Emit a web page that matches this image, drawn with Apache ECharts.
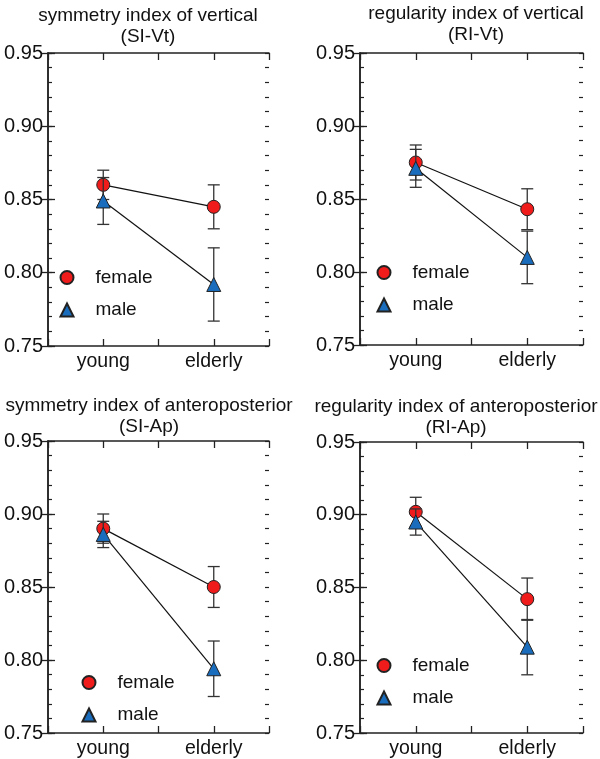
<!DOCTYPE html>
<html>
<head>
<meta charset="utf-8">
<script src="https://cdn.jsdelivr.net/npm/echarts@6/dist/echarts.min.js"></script>
<style>
html, body { margin: 0; padding: 0; background: #fff; }
#main { width: 600px; height: 759px; }
</style>
</head>
<body>
<div id="main"></div>
<script>
// categories on the x axis
var groups = ['young', 'elderly'];
var yTicks = [0.75, 0.80, 0.85, 0.90, 0.95];

// panel titles
var titles = [
    'symmetry index of vertical\n(SI-Vt)',
    'regularity index of vertical\n(RI-Vt)',
    'symmetry index of anteroposterior\n(SI-Ap)',
    'regularity index of anteroposterior\n(RI-Ap)'
];

// SI-Vt
var siVtFemale = [0.860, 0.845];
var siVtFemaleErr = [0.010, 0.015];
var siVtMale = [0.849, 0.792];
var siVtMaleErr = [0.016, 0.025];
// RI-Vt
var riVtFemale = [0.875, 0.843];
var riVtFemaleErr = [0.012, 0.014];
var riVtMale = [0.871, 0.810];
var riVtMaleErr = [0.013, 0.018];
// SI-Ap
var siApFemale = [0.890, 0.850];
var siApFemaleErr = [0.010, 0.014];
var siApMale = [0.886, 0.794];
var siApMaleErr = [0.009, 0.019];
// RI-Ap
var riApFemale = [0.902, 0.842];
var riApFemaleErr = [0.010, 0.0145];
var riApMale = [0.895, 0.809];
var riApMaleErr = [0.009, 0.019];

var panelData = [
    [siVtFemale, siVtFemaleErr, siVtMale, siVtMaleErr],
    [riVtFemale, riVtFemaleErr, riVtMale, riVtMaleErr],
    [siApFemale, siApFemaleErr, siApMale, siApMaleErr],
    [riApFemale, riApFemaleErr, riApMale, riApMaleErr]
];

// layout of the four boxes
var boxes = [
    {left: 48, top: 53, width: 221, height: 293, titleX: 148, titleY: 26, legX: 59.5, legY: 268},
    {left: 360, top: 53, width: 223, height: 292, titleX: 476, titleY: 24.5, legX: 376.5, legY: 263},
    {left: 48, top: 441, width: 221, height: 293, titleX: 149, titleY: 416.5, legX: 81.5, legY: 673},
    {left: 360, top: 442, width: 223, height: 292, titleX: 456, titleY: 417.5, legX: 376.5, legY: 656}
];

var FONT = '"Liberation Sans", Arial, Helvetica, sans-serif';
var RED = '#f01c1c';
var BLUE = '#1a6dbd';
var AXIS = '#222';

// young -> 1, elderly -> 3 on a 0..4 axis
var groupPos = function (i) { return i * 2 + 1; };

var toLine = function (means) {
    return means.map(function (v, i) { return [groupPos(i), v]; });
};
var toErr = function (means, errs) {
    return means.map(function (v, i) { return [groupPos(i), v - errs[i], v + errs[i]]; });
};

function renderErrorBar(params, api) {
    var x = api.value(0);
    var lo = api.coord([x, api.value(1)]);
    var hi = api.coord([x, api.value(2)]);
    var w = 6;
    var style = {stroke: '#333', lineWidth: 1.3};
    return {
        type: 'group',
        children: [
            {type: 'line', shape: {x1: lo[0], y1: lo[1], x2: hi[0], y2: hi[1]}, style: style},
            {type: 'line', shape: {x1: lo[0] - w, y1: lo[1], x2: lo[0] + w, y2: lo[1]}, style: style},
            {type: 'line', shape: {x1: hi[0] - w, y1: hi[1], x2: hi[0] + w, y2: hi[1]}, style: style}
        ]
    };
}

var chart = echarts.init(document.getElementById('main'));

var option = {
    animation: false,
    backgroundColor: '#fff',
    grid: [],
    xAxis: [],
    yAxis: [],
    legend: [],
    graphic: [],
    series: []
};

var yMin = yTicks[0], yMax = yTicks[yTicks.length - 1];

boxes.forEach(function (b, i) {
    option.grid.push({left: b.left, top: b.top, width: b.width, height: b.height});

    var majorTick = {show: true, inside: true, length: 7, lineStyle: {color: AXIS, width: 1.3}};
    var minorTick = {show: true, inside: true, length: 4, lineStyle: {color: AXIS, width: 1.2}};
    var axisLine = {show: true, lineStyle: {color: AXIS, width: 1.5}};

    //bottom and top x axes
    option.xAxis.push({
        type: 'value', gridIndex: i, min: 0, max: 4, interval: 1,
        axisLine: axisLine, axisTick: majorTick, splitLine: {show: false},
        axisLabel: {
            fontSize: 19.5, fontFamily: FONT, color: '#111', margin: 6,
            formatter: function (v) { return v % 2 === 1 ? groups[(v - 1) / 2] : ''; }
        }
    }, {
        type: 'value', gridIndex: i, min: 0, max: 4, interval: 1, position: 'top',
        axisLine: axisLine, axisTick: majorTick, splitLine: {show: false},
        axisLabel: {show: false}
    });

    //left/right y axes: one for major ticks + labels, one for the 0.01 minor ticks
    var yi = option.yAxis.length;
    option.yAxis.push({
        type: 'value', gridIndex: i, min: yMin, max: yMax, interval: 0.05, position: 'left',
        axisLine: axisLine, axisTick: majorTick, splitLine: {show: false},
        axisLabel: {
            fontSize: 20, fontFamily: FONT, color: '#111', margin: 5,
            formatter: function (v) { return v.toFixed(2); }
        }
    }, {
        type: 'value', gridIndex: i, min: yMin, max: yMax, interval: 0.05, position: 'right',
        axisLine: axisLine, axisTick: majorTick, splitLine: {show: false},
        axisLabel: {show: false}
    }, {
        type: 'value', gridIndex: i, min: yMin, max: yMax, interval: 0.01, position: 'left',
        axisLine: {show: false}, axisTick: minorTick, splitLine: {show: false},
        axisLabel: {show: false}
    }, {
        type: 'value', gridIndex: i, min: yMin, max: yMax, interval: 0.01, position: 'right',
        axisLine: {show: false}, axisTick: minorTick, splitLine: {show: false},
        axisLabel: {show: false}
    });

    var d = panelData[i];
    var xi = i * 2;

    option.series.push({//误差线 female
        name: 'female-err', type: 'custom', xAxisIndex: xi, yAxisIndex: yi,
        renderItem: renderErrorBar, z: 2, encode: {x: 0, y: [1, 2]},
        data: toErr(d[0], d[1])
    }, {
        name: 'female', type: 'line', xAxisIndex: xi, yAxisIndex: yi, z: 3,
        symbol: 'circle', symbolSize: 13,
        itemStyle: {color: RED, borderColor: '#222', borderWidth: 1},
        lineStyle: {color: '#111', width: 1.2},
        data: toLine(d[0])
    }, {//误差线 male
        name: 'male-err', type: 'custom', xAxisIndex: xi, yAxisIndex: yi,
        renderItem: renderErrorBar, z: 4, encode: {x: 0, y: [1, 2]},
        data: toErr(d[2], d[3])
    }, {
        name: 'male', type: 'line', xAxisIndex: xi, yAxisIndex: yi, z: 5,
        symbol: 'triangle', symbolSize: 14,
        itemStyle: {color: BLUE, borderColor: '#222', borderWidth: 1},
        lineStyle: {color: '#111', width: 1.2},
        data: toLine(d[2])
    });

    option.legend.push({
        orient: 'vertical', left: b.legX, top: b.legY, padding: 0,
        itemWidth: 13, itemHeight: 13, itemGap: 13.5,
        selectedMode: false,
        textStyle: {fontSize: 19, fontFamily: FONT, color: '#111', padding: [0, 0, 0, 17]},
        data: [{name: 'female', icon: 'circle'}, {name: 'male', icon: 'triangle'}]
    });

    option.graphic.push({
        type: 'text', x: b.titleX, y: b.titleY,
        style: {
            text: titles[i], font: '19px ' + FONT, fill: '#111',
            textAlign: 'center', textVerticalAlign: 'middle', lineHeight: 21
        }
    });
});

chart.setOption(option);
</script>
</body>
</html>
